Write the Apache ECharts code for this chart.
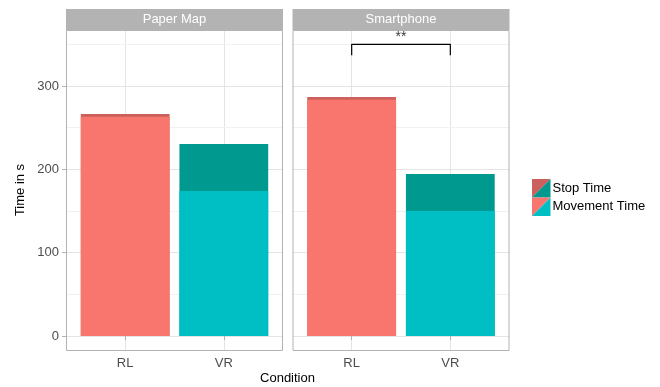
<!DOCTYPE html>
<html><head><meta charset="utf-8">
<script src="https://cdn.jsdelivr.net/npm/echarts@6/dist/echarts.min.js"></script>
<style>html,body{margin:0;padding:0;background:#fff}#c{width:660px;height:387px}</style>
</head><body><div id="c"></div>
<script>
const panels = ['Paper Map', 'Smartphone'];
const conditions = ['RL', 'VR'];
const movementTime = [[263.2, 174.0], [283.6, 150.0]];
const stopTime = [[3.2, 56.4], [3.2, 44.4]];
const yTicks = [0, 100, 200, 300];
const yMinorTicks = [50, 150, 250, 350];
const legendLabels = ['Stop Time', 'Movement Time'];
const sigLabel = '**';
const sigBracket = [337, 350];
const sigLabelY = 359;
const sigPanel = 1;
const yTitle = 'Time in s';
const xTitle = 'Condition';

const FONT = '"Liberation Sans", Arial, Helvetica, sans-serif';
const moveColors = ['#F8766D', '#00BFC4'];
const stopColors = ['#CB605C', '#00998F'];
const Y_MIN = -16.8, Y_MAX = 367.2, X_MIN = 0.4, X_MAX = 2.6;
const gridLeft = [66, 292.5], gridW = 217, gridTop = 30, gridH = 320;
const barW = 0.9 * gridW / (X_MAX - X_MIN);
const condX = conditions.map((c, i) => i + 1);

const grids = panels.map((p, i) => ({left: gridLeft[i], top: gridTop, width: gridW, height: gridH, show: true, backgroundColor: '#fff', borderWidth: 0}));
const xAxes = panels.map((p, i) => ({
  type: 'value', gridIndex: i, min: X_MIN, max: X_MAX, splitNumber: 2,
  axisLine: {show: false},
  axisTick: {show: true, customValues: condX, length: 4, lineStyle: {color: '#b3b3b3'}},
  axisLabel: {show: true, customValues: condX, formatter: v => conditions[Math.round(v) - 1] || '', color: '#4d4d4d', fontSize: 13, fontFamily: FONT, margin: 7},
  splitLine: {show: true, lineStyle: {color: '#e4e4e4', width: 1}}
}));
const yAxes = panels.map((p, i) => ({
  type: 'value', gridIndex: i, min: Y_MIN, max: Y_MAX, splitNumber: 4,
  axisLine: {show: false},
  axisTick: {show: i === 0, customValues: yTicks, length: 4, lineStyle: {color: '#b3b3b3'}},
  axisLabel: {show: i === 0, customValues: yTicks, formatter: v => String(v), color: '#4d4d4d', fontSize: 13, fontFamily: FONT, margin: 7},
  splitLine: {show: true, lineStyle: {color: '#e4e4e4', width: 1}}
}));

const series = [];
panels.forEach((p, pi) => {
  series.push({
    type: 'scatter', xAxisIndex: pi, yAxisIndex: pi, data: [], z: 1, silent: true,
    markLine: {silent: true, z: 1, symbol: ['none', 'none'], label: {show: false},
      lineStyle: {color: '#f1f1f1', type: 'solid', width: 1}, animation: false,
      data: yMinorTicks.map(v => ({yAxis: v}))}
  });
  series.push({
    name: legendLabels[0], type: 'bar', xAxisIndex: pi, yAxisIndex: pi, barWidth: barW, barGap: '-100%', z: 2,
    data: conditions.map((c, i) => [i + 1, movementTime[pi][i] + stopTime[pi][i]]),
    itemStyle: {color: q => stopColors[q.dataIndex]}
  });
  series.push({
    name: legendLabels[1], type: 'bar', xAxisIndex: pi, yAxisIndex: pi, barWidth: barW, barGap: '-100%', z: 3,
    data: conditions.map((c, i) => [i + 1, movementTime[pi][i]]),
    itemStyle: {color: q => moveColors[q.dataIndex]}
  });
});
series.push({
  type: 'line', xAxisIndex: sigPanel, yAxisIndex: sigPanel, symbol: 'none', z: 5,
  data: [[1, sigBracket[0]], [1, sigBracket[1]], [2, sigBracket[1]], [2, sigBracket[0]]],
  lineStyle: {color: '#000', width: 1.2}
});
series.push({
  type: 'scatter', xAxisIndex: sigPanel, yAxisIndex: sigPanel, symbolSize: 0, z: 5, clip: false,
  data: [[1.5, sigLabelY]],
  label: {show: true, position: 'inside', formatter: sigLabel, color: '#000', fontSize: 14, fontFamily: FONT}
});

const graphic = [];
panels.forEach((p, i) => {
  graphic.push({type: 'rect', shape: {x: gridLeft[i], y: 9, width: gridW, height: 21}, style: {fill: '#b3b3b3'}, z: 50});
  graphic.push({type: 'text', x: gridLeft[i] + gridW / 2, y: 19.5, style: {text: p, fill: '#fff', font: '13px ' + FONT, textAlign: 'center', textVerticalAlign: 'middle'}, z: 51});
  graphic.push({type: 'rect', shape: {x: gridLeft[i] + 0.5, y: gridTop + 0.5, width: gridW - 1, height: gridH}, style: {fill: null, stroke: '#b3b3b3', lineWidth: 1}, z: 50});
});
graphic.push({type: 'text', x: 20, y: 190, rotation: Math.PI / 2, style: {text: yTitle, fill: '#000', font: '13px ' + FONT, textAlign: 'center', textVerticalAlign: 'middle'}, z: 50});
graphic.push({type: 'text', x: 287.5, y: 378, style: {text: xTitle, fill: '#000', font: '13px ' + FONT, textAlign: 'center', textVerticalAlign: 'middle'}, z: 50});
const keyColors = [stopColors, moveColors];
legendLabels.forEach((lab, k) => {
  const x0 = 532, y0 = 179 + k * 18.5, s = 18.5;
  graphic.push({type: 'polygon', shape: {points: [[x0, y0], [x0 + s, y0], [x0, y0 + s]]}, style: {fill: keyColors[k][0]}, z: 50});
  graphic.push({type: 'polygon', shape: {points: [[x0 + s, y0], [x0 + s, y0 + s], [x0, y0 + s]]}, style: {fill: keyColors[k][1]}, z: 50});
  graphic.push({type: 'text', x: x0 + s + 2, y: y0 + s / 2, style: {text: lab, fill: '#000', font: '13px ' + FONT, textAlign: 'left', textVerticalAlign: 'middle'}, z: 50});
});

const chart = echarts.init(document.getElementById('c'), null, {renderer: 'canvas'});
chart.setOption({animation: false, grid: grids, xAxis: xAxes, yAxis: yAxes, series, graphic});
</script></body></html>
